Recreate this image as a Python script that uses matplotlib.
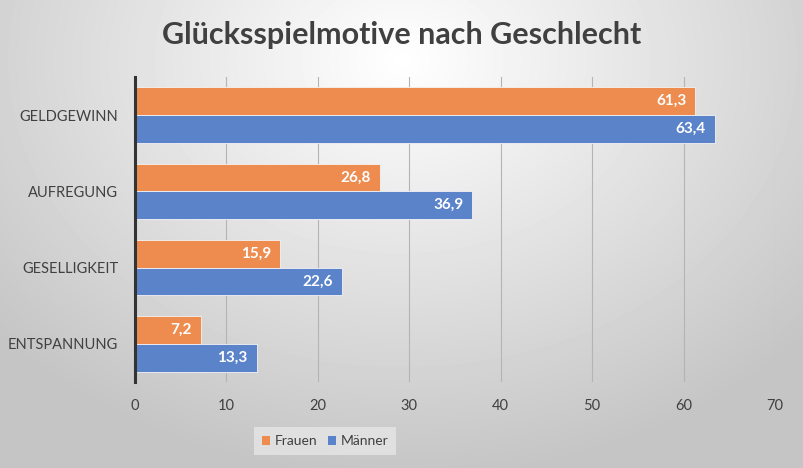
import numpy as np
import matplotlib.pyplot as plt
from matplotlib.patches import Patch

# Daten
kategorien = ['GELDGEWINN', 'AUFREGUNG', 'GESELLIGKEIT', 'ENTSPANNUNG']
frauen = [61.3, 26.8, 15.9, 7.2]
maenner = [63.4, 36.9, 22.6, 13.3]
x_ticks = [0, 10, 20, 30, 40, 50, 60, 70]

farbe_frauen = '#EE8C4F'
farbe_maenner = '#5B83CA'
textfarbe = '#404040'

plt.rcParams['font.family'] = ['Lato', 'DejaVu Sans']

fig = plt.figure(figsize=(8.04, 4.68), dpi=100)

# Hintergrund mit radialem Verlauf
bg = fig.add_axes([0, 0, 1, 1], zorder=-10)
yy, xx = np.mgrid[0:468, 0:804]
r = np.sqrt(((xx - 402) / 540.0) ** 2 + ((yy - 60) / 420.0) ** 2)
r = np.clip(r, 0, 1)
grau = 1.0 - 0.23 * r
bg.imshow(grau, cmap='gray', vmin=0, vmax=1, aspect='auto', extent=[0, 1, 0, 1])
bg.axis('off')

ax = fig.add_axes([135 / 804, 1 - 382 / 468, 640 / 804, 305 / 468])
ax.patch.set_alpha(0)

y = np.arange(len(kategorien))
h = 0.365
b1 = ax.barh(y - h / 2, frauen, height=h, color=farbe_frauen, edgecolor='#f4f4f4', linewidth=0.6, zorder=3)
b2 = ax.barh(y + h / 2, maenner, height=h, color=farbe_maenner, edgecolor='#f4f4f4', linewidth=0.6, zorder=3)

for bars, werte in ((b1, frauen), (b2, maenner)):
    for bar, v in zip(bars, werte):
        ax.text(bar.get_width() - 1.0, bar.get_y() + bar.get_height() / 2,
                f'{v:.1f}'.replace('.', ','), ha='right', va='center',
                color='white', fontsize=11, fontweight='bold', zorder=4)

ax.set_xlim(0, 70)
ax.set_ylim(len(kategorien) - 0.5, -0.5)
ax.set_xticks(x_ticks)
ax.set_yticks(y)
ax.set_yticklabels(kategorien)
ax.tick_params(axis='both', length=0, labelsize=10.5, colors=textfarbe)
ax.tick_params(axis='x', pad=12)
ax.tick_params(axis='y', pad=12)
ax.grid(axis='x', color='#b4b4b4', linewidth=0.8, zorder=0)
for s in ['top', 'right', 'bottom']:
    ax.spines[s].set_visible(False)
ax.spines['left'].set_color('#333333')
ax.spines['left'].set_linewidth(2.2)
ax.spines['left'].set_zorder(5)

fig.text(0.5, 1 - 35 / 468, 'Glücksspielmotive nach Geschlecht', ha='center', va='center',
         fontsize=22, fontweight='bold', color=textfarbe)

handles = [Patch(facecolor=farbe_frauen, label='Frauen'), Patch(facecolor=farbe_maenner, label='Männer')]
leg = fig.legend(handles=handles, loc='center', bbox_to_anchor=(325 / 804, 1 - 441 / 468), ncol=2,
                 frameon=True, fontsize=10, handlelength=0.6, handleheight=0.6, handletextpad=0.3,
                 columnspacing=0.8, borderpad=0.55, borderaxespad=0, fancybox=False)
leg.get_frame().set_facecolor('#e6e6e6')
leg.get_frame().set_edgecolor('none')
leg.get_frame().set_alpha(0.8)
for t in leg.get_texts():
    t.set_color(textfarbe)

fig.savefig('out.png', dpi=100)
